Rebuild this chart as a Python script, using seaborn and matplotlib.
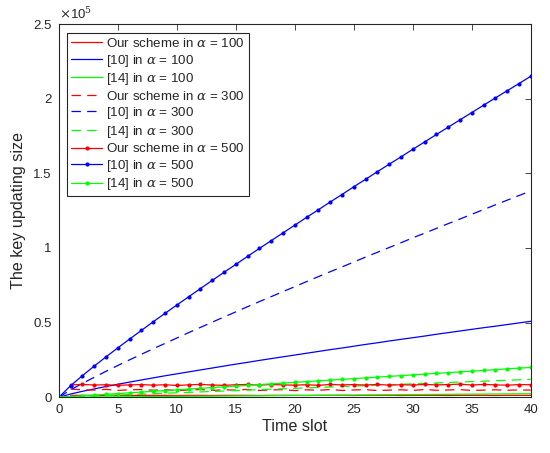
import numpy as np
import matplotlib
matplotlib.use('Agg')
import matplotlib.pyplot as plt
import seaborn as sns
from matplotlib.ticker import FuncFormatter

# time slots
slots = list(range(0, 41))
slots_red = list(range(1, 41))

# key updating size (thousands)
ours_100 = [1.3, 1.3, 1.2, 1.3, 1.3, 1.2, 1.3, 1.3, 1.3, 1.2, 1.3, 1.3, 1.2, 1.3, 1.3, 1.3, 1.2, 1.3, 1.3, 1.3,
            1.2, 1.3, 1.3, 1.3, 1.2, 1.3, 1.3, 1.3, 1.2, 1.3, 1.3, 1.3, 1.2, 1.3, 1.3, 1.3, 1.2, 1.3, 1.3, 1.3]
ours_300 = [5.5, 5.0, 4.8, 5.3, 4.6, 5.0, 5.2, 4.7, 5.1, 4.5, 4.9, 5.2, 4.6, 5.0, 4.8, 5.3, 4.6, 4.9, 5.1, 4.5,
            5.0, 4.7, 5.2, 4.6, 4.9, 5.1, 4.5, 4.8, 5.0, 4.6, 5.2, 4.7, 4.9, 5.1, 4.6, 4.8, 5.0, 4.7, 4.9, 4.8]
ours_500 = [8.3, 8.6, 8.2, 8.4, 8.0, 8.3, 8.5, 8.1, 8.4, 7.9, 8.3, 8.6, 8.2, 8.0, 8.4, 8.6, 8.2, 8.5, 8.3, 8.1,
            8.4, 8.0, 8.6, 8.3, 8.5, 8.2, 8.6, 8.1, 8.4, 8.2, 8.6, 8.3, 8.5, 8.8, 8.2, 8.6, 8.3, 8.1, 8.5, 8.4]
ref10_100 = [0, 2.2, 4.0, 5.6, 7.2, 8.7, 10.2, 11.6, 13.0, 14.4, 15.7, 17.0, 18.3, 19.6, 20.9, 22.2, 23.4, 24.7,
             25.9, 27.1, 28.3, 29.5, 30.7, 31.9, 33.0, 34.2, 35.4, 36.5, 37.7, 38.8, 39.9, 41.0, 42.2, 43.3, 44.4,
             45.5, 46.6, 47.6, 48.7, 49.8, 50.9]
ref10_300 = [0, 5.0, 9.3, 13.4, 17.4, 21.3, 25.1, 28.8, 32.5, 36.1, 39.7, 43.3, 46.8, 50.3, 53.8, 57.2, 60.7, 64.1,
             67.4, 70.8, 74.1, 77.5, 80.8, 84.1, 87.3, 90.6, 93.9, 97.1, 100.3, 103.5, 106.8, 109.9, 113.1, 116.3,
             119.4, 122.6, 125.7, 128.9, 132.0, 135.1, 138.2]
ref10_500 = [0, 7.8, 14.5, 20.9, 27.1, 33.1, 39.0, 44.8, 50.6, 56.2, 61.8, 67.3, 72.8, 78.3, 83.7, 89.0, 94.4, 99.7,
             104.9, 110.1, 115.3, 120.5, 125.6, 130.8, 135.8, 141.0, 146.0, 151.1, 156.1, 161.0, 166.1, 171.0,
             176.0, 180.9, 185.8, 190.7, 195.6, 200.5, 205.3, 210.1, 215.0]
ref14_100 = [0, 0.06, 0.12, 0.18, 0.24, 0.3, 0.36, 0.42, 0.48, 0.54, 0.6, 0.66, 0.72, 0.78, 0.84, 0.9, 0.96, 1.02,
             1.08, 1.14, 1.2, 1.26, 1.32, 1.38, 1.44, 1.5, 1.56, 1.62, 1.68, 1.74, 1.8, 1.86, 1.92, 1.98, 2.04, 2.1,
             2.16, 2.22, 2.28, 2.34, 2.4]
ref14_300 = [0, 0.3, 0.6, 0.9, 1.2, 1.5, 1.8, 2.1, 2.4, 2.7, 3.0, 3.3, 3.6, 3.9, 4.2, 4.5, 4.8, 5.1, 5.4, 5.7, 6.0,
             6.3, 6.6, 6.9, 7.2, 7.5, 7.8, 8.1, 8.4, 8.7, 9.0, 9.3, 9.6, 9.9, 10.2, 10.5, 10.8, 11.1, 11.4, 11.7, 12.0]
ref14_500 = [0, 0.5, 1.0, 1.5, 2.0, 2.5, 3.0, 3.5, 4.0, 4.5, 5.0, 5.5, 6.0, 6.5, 7.0, 7.5, 8.0, 8.5, 9.0, 9.5, 10.0,
             10.5, 11.0, 11.5, 12.0, 12.5, 13.0, 13.5, 14.0, 14.5, 15.0, 15.5, 16.0, 16.5, 17.0, 17.5, 18.0, 18.5,
             19.0, 19.5, 20.0]

sns.set_style('white')
plt.rcParams['font.family'] = ['Liberation Sans', 'DejaVu Sans']
plt.rcParams['mathtext.fontset'] = 'dejavuserif'

fig = plt.figure(figsize=(5.5, 4.53), dpi=100)
ax = fig.add_axes([0.107, 0.123, 0.858, 0.824])

RED, BLUE, GREEN = '#ff0000', '#0000ff', '#00ff00'
DASH = (0, (7.5, 5))
series = [
    ('Our scheme in $\\alpha$ = 100', slots_red, ours_100, RED, '-', None),
    ('[10] in $\\alpha$ = 100', slots, ref10_100, BLUE, '-', None),
    ('[14] in $\\alpha$ = 100', slots, ref14_100, GREEN, '-', None),
    ('Our scheme in $\\alpha$ = 300', slots_red, ours_300, RED, DASH, None),
    ('[10] in $\\alpha$ = 300', slots, ref10_300, BLUE, DASH, None),
    ('[14] in $\\alpha$ = 300', slots, ref14_300, GREEN, DASH, None),
    ('Our scheme in $\\alpha$ = 500', slots_red, ours_500, RED, '-', '.'),
    ('[10] in $\\alpha$ = 500', slots, ref10_500, BLUE, '-', '.'),
    ('[14] in $\\alpha$ = 500', slots, ref14_500, GREEN, '-', '.'),
]
for label, xs, ys, color, ls, mk in series:
    sns.lineplot(x=xs, y=np.array(ys) * 1000, ax=ax, color=color, linestyle=ls,
                 marker=mk, markersize=6, markeredgewidth=0, linewidth=0.9,
                 label=label, errorbar=None)

ax.set_xlim(0, 40)
ax.set_ylim(0, 2.5e5)
ax.set_xticks(range(0, 41, 5))
ax.set_yticks([0, 0.5e5, 1e5, 1.5e5, 2e5, 2.5e5])
ax.yaxis.set_major_formatter(FuncFormatter(lambda v, p: '%g' % (v / 1e5)))
ax.tick_params(direction='in', length=4, width=0.6, top=True, right=True,
               labelsize=9.5, colors='#262626', pad=5)
for sp in ax.spines.values():
    sp.set_color('#262626')
    sp.set_linewidth(0.8)
ax.text(0.0, 1.005, '$\\times$10$^5$', transform=ax.transAxes, fontsize=9.5,
        color='#262626', va='bottom', ha='left')
ax.set_xlabel('Time slot', fontsize=11.6, color='#262626', labelpad=2)
ax.set_ylabel('The key updating size', fontsize=11.6, color='#262626', labelpad=5)

leg = ax.legend(loc='upper left', bbox_to_anchor=(0.018, 0.976), fontsize=9.6,
                frameon=True, fancybox=False, edgecolor='#262626', framealpha=1,
                handlelength=2.3, handletextpad=0.3, labelspacing=0.19,
                borderpad=0.3, borderaxespad=0)
leg.get_frame().set_linewidth(0.8)

fig.savefig('out.png', dpi=100)
